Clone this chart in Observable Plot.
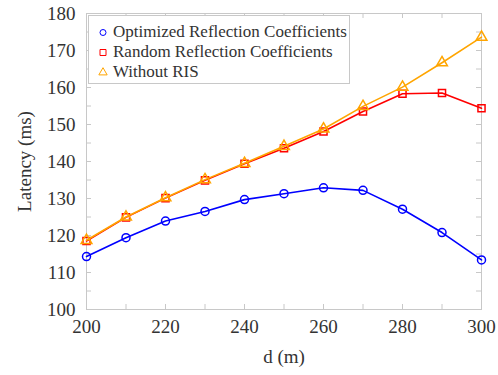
<!DOCTYPE html>
<html><head>
<meta charset="utf-8">
<script src="https://cdn.jsdelivr.net/npm/d3@7"></script>
<script src="https://cdn.jsdelivr.net/npm/@observablehq/plot@0.6"></script>
<style>
body{margin:0;background:#fff;}
#wrap{position:relative;width:498px;height:375px;font-family:"Liberation Serif","Times New Roman",Times,serif;}
#legend{position:absolute;left:88px;top:15px;width:262px;height:69px;border:1px solid #c8c8c8;background:#fff;box-sizing:border-box;padding-top:6px;}
.row{height:20px;display:flex;align-items:center;font-size:17px;color:#333;white-space:nowrap;font-family:"Liberation Serif","Times New Roman",Times,serif;}
.row svg{margin-left:8px;margin-right:4px;}
</style>
</head><body>
<div id="wrap"></div>
<script>
const distances = [200,210,220,230,240,250,260,270,280,290,300];
const optimized = [114.3,119.4,123.9,126.5,129.7,131.3,132.9,132.2,127.1,120.8,113.4];
const randomCoef = [118.5,124.9,130.1,134.9,139.4,143.6,148.1,153.5,158.3,158.5,154.4];
const withoutRIS = [118.7,125.0,130.2,135.1,139.5,144.1,148.8,154.9,160.1,166.7,173.6];
const seriesNames = ["Optimized Reflection Coefficients","Random Reflection Coefficients","Without RIS"];
const seriesColors = ["#0000ff","#ff0000","#ffa500"];
const seriesSymbols = ["circle","square","triangle"];
const xTickLabels = [200,220,240,260,280,300];
const xTicksAll = [200,210,220,230,240,250,260,270,280,290,300];
const yTickLabels = [100,110,120,130,140,150,160,170,180];
const yTicksAll = [100,105,110,115,120,125,130,135,140,145,150,155,160,165,170,175,180];

const allSeries = [optimized, randomCoef, withoutRIS];
const rows = [];
allSeries.forEach((vals, s) => vals.forEach((v, i) => rows.push({d: distances[i], v, s: seriesNames[s]})));

const W = 498, H = 375, mL = 86, mR = 17, mT = 13, mB = 66;
const innerH = H - mT - mB;
const innerW = W - mL - mR;
const tickLen = 5;
const gray = "#c8c8c8";
const serif = "'Liberation Serif','Times New Roman',Times,serif";

const marks = [
  Plot.frame({stroke: gray}),
  Plot.tickX(xTicksAll, {x: d => d, stroke: gray, insetTop: innerH - tickLen}),
  Plot.tickX(xTicksAll, {x: d => d, stroke: gray, insetBottom: innerH - tickLen}),
  Plot.tickY(yTicksAll, {y: d => d, stroke: gray, insetRight: innerW - tickLen}),
  Plot.tickY(yTicksAll, {y: d => d, stroke: gray, insetLeft: innerW - tickLen}),
  Plot.axisX(xTickLabels, {tickSize: 0, tickPadding: 10, fontSize: 19, fill: "#333", fontFamily: serif, label: "d (m)", labelArrow: "none", labelAnchor: "center", labelOffset: 53}),
  Plot.axisY(yTickLabels, {tickSize: 0, tickPadding: 11, fontSize: 19, fill: "#333", fontFamily: serif, label: "Latency (ms)", labelArrow: "none", labelAnchor: "center", labelOffset: 69}),
];

seriesNames.forEach((name, s) => {
  const data = rows.filter(r => r.s === name);
  marks.push(Plot.line(data, {x: "d", y: "v", stroke: seriesColors[s], strokeWidth: 1.6}));
  marks.push(Plot.dot(data, {x: "d", y: "v", stroke: seriesColors[s], symbol: seriesSymbols[s], r: 4, strokeWidth: 1.5, fill: "none"}));
});

const chart = Plot.plot({
  width: W, height: H,
  marginLeft: mL, marginRight: mR, marginTop: mT, marginBottom: mB,
  x: {domain: [200, 300]},
  y: {domain: [100, 180]},
  style: {fontFamily: serif, fontSize: "19px", color: "#333", background: "#fff"},
  marks
});
const wrap = document.getElementById("wrap");
wrap.appendChild(chart);

// legend
const leg = document.createElement("div");
leg.id = "legend";
seriesNames.forEach((name, s) => {
  const row = document.createElement("div");
  row.className = "row";
  const svg = d3.create("svg").attr("width", 12).attr("height", 12);
  const sym = d3.symbol(s === 0 ? d3.symbolCircle : s === 1 ? d3.symbolSquare : d3.symbolTriangle, s === 0 ? 28 : s === 1 ? 36 : 30)();
  svg.append("path").attr("d", sym).attr("transform", "translate(6,6.5)").attr("fill", "none").attr("stroke", seriesColors[s]).attr("stroke-width", 1);
  row.appendChild(svg.node());
  const span = document.createElement("span");
  span.textContent = name;
  row.appendChild(span);
  leg.appendChild(row);
});
wrap.appendChild(leg);
</script>
</body></html>
